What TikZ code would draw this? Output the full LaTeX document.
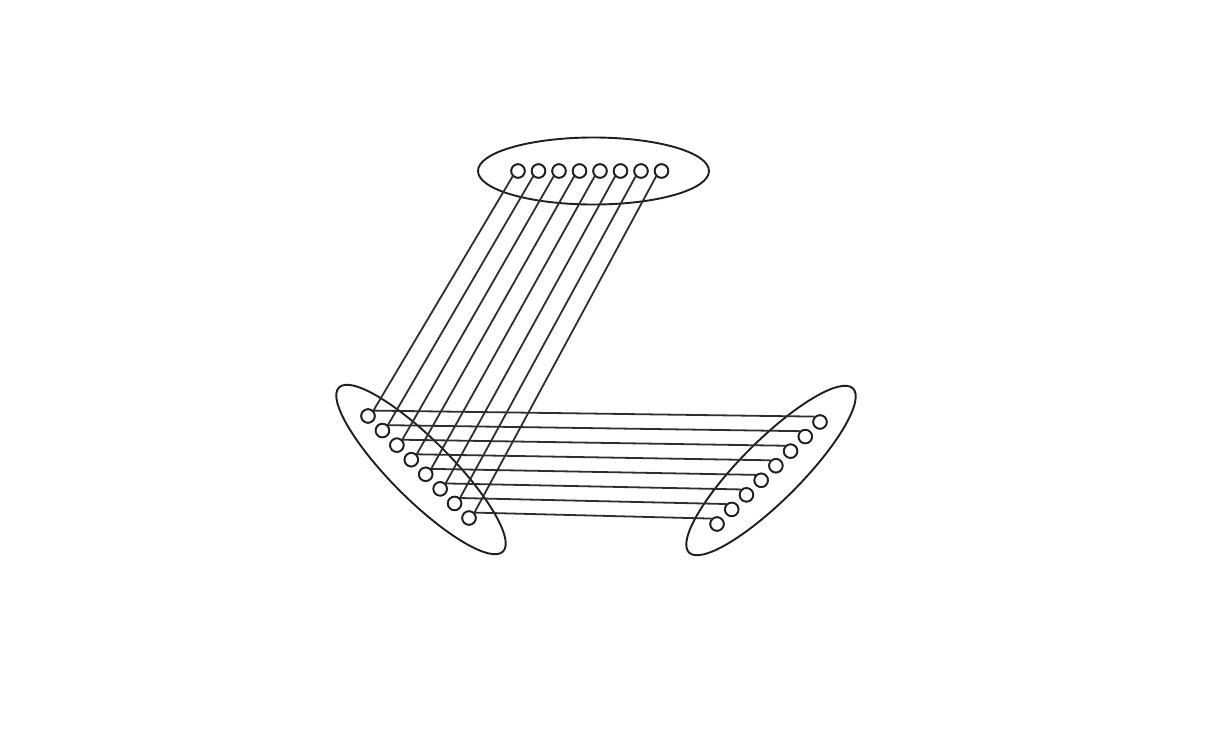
\documentclass[tikz,border=0pt]{standalone}
\usetikzlibrary{shapes.geometric}
\begin{document}
\begin{tikzpicture}[x=1pt,y=-1pt,
  ln/.style={line width=1.8pt,draw=black!82},
  grp/.style={ellipse,draw=black!88,line width=1.9pt,inner sep=0pt,minimum width=232pt,minimum height=60pt},
  dot/.style={circle,draw=black!88,line width=1.8pt,fill=white,inner sep=0pt,minimum size=13.5pt}]
\useasboundingbox (0,0) rectangle (1216,753);
\node[grp,minimum width=231pt,minimum height=67pt] (top) at (593.5,171) {};
\node[grp,rotate=-45] (left) at (421,469.5) {};
\node[grp,rotate=45] (right) at (771,470.5) {};
\foreach \i in {1,...,8}{
  \node[dot] (t\i) at ({518+20.5*(\i-1)},171) {};
  \node[dot] (l\i) at ({368+14.43*(\i-1)},{416+14.57*(\i-1)}) {};
  \node[dot] (r\i) at ({820-14.71*(\i-1)},{422+14.57*(\i-1)}) {};
}
\foreach \i in {1,...,8}{
  \draw[ln] (t\i.south west) -- (l\i.north east);
  \draw[ln] (l\i.north east) -- (r\i.north west);
}
\foreach \i in {1,...,8}{
  \node[dot] at (t\i) {};
  \node[dot] at (l\i) {};
  \node[dot] at (r\i) {};
}
\end{tikzpicture}
\end{document}
